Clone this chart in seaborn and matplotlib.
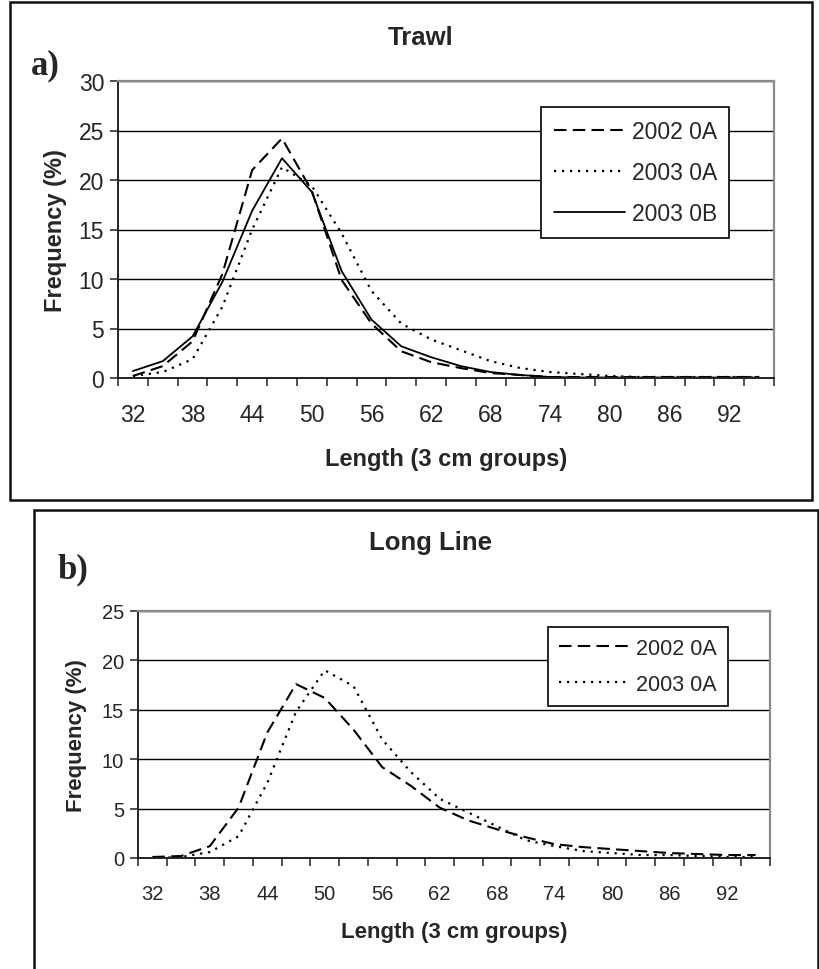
import numpy as np
import pandas as pd
import matplotlib
matplotlib.use("Agg")
import matplotlib.pyplot as plt
import seaborn as sns
from matplotlib.patches import Rectangle
from matplotlib.lines import Line2D

# ---------------- data ----------------
length_groups = [32, 35, 38, 41, 44, 47, 50, 53, 56, 59, 62, 65, 68, 71, 74, 77, 80, 83, 86, 89, 92, 95]
x_tick_labels = ["32", "38", "44", "50", "56", "62", "68", "74", "80", "86", "92"]

trawl_2002_0A = [0.2, 1.2, 3.7, 10.5, 21.0, 24.2, 18.9, 9.9, 5.5, 2.7, 1.6, 1.0, 0.5, 0.3, 0.1, 0.1, 0.1, 0.1, 0.1, 0.1, 0.1, 0.1]
trawl_2003_0A = [0.2, 0.6, 1.9, 7.2, 15.0, 21.3, 19.4, 14.6, 8.8, 5.5, 3.9, 2.8, 1.7, 1.0, 0.6, 0.4, 0.2, 0.1, 0.1, 0.1, 0.1, 0.1]
trawl_2003_0B = [0.7, 1.7, 4.2, 9.7, 16.9, 22.2, 18.8, 10.8, 5.9, 3.2, 2.1, 1.2, 0.6, 0.3, 0.1, 0.05, 0.05, 0.05, 0.05, 0.05, 0.05, 0.05]

longline_2002_0A = [0.1, 0.2, 1.2, 5.1, 12.7, 17.6, 16.2, 13.0, 9.2, 7.3, 5.1, 3.8, 2.9, 2.1, 1.4, 1.1, 0.9, 0.7, 0.5, 0.4, 0.3, 0.3]
longline_2003_0A = [0.0, 0.1, 0.6, 2.2, 7.6, 14.8, 19.0, 17.4, 12.0, 8.7, 6.0, 4.6, 3.2, 1.8, 1.2, 0.7, 0.5, 0.3, 0.3, 0.2, 0.1, 0.1]

series_labels_a = ["2002 0A", "2003 0A", "2003 0B"]
series_labels_b = ["2002 0A", "2003 0A"]

# ---------------- style ----------------
sns.set_theme(style="white")
plt.rcParams["font.family"] = ["Liberation Sans", "DejaVu Sans"]

DASH = (6, 3)
DOT = (1, 2.6)
styles = {
    "2002 0A": dict(dashes=DASH, lw=1.5),
    "2003 0A": dict(dashes=DOT, lw=1.6),
    "2003 0B": dict(dashes=None, lw=1.3),
}

W, H = 820, 970
fig = plt.figure(figsize=(W / 100, H / 100), dpi=100)
fig.patch.set_facecolor("white")


def px_axes(left, top, right, bottom):
    return fig.add_axes([left / W, 1 - bottom / H, (right - left) / W, (bottom - top) / H])


def draw_panel(ax, series, labels, ymax, fs_tick, fs_lab, fs_leg, xpad, legend_pos,
               handlelen, labspace, bpad, label_coords_y, label_coords_x):
    n = len(length_groups)
    pos = np.arange(n)
    for vals, lab in zip(series, labels):
        df = pd.DataFrame({"pos": pos, "val": vals})
        st = styles[lab]
        sns.lineplot(data=df, x="pos", y="val", ax=ax, legend=False, color="black", lw=st["lw"])
        ln = ax.get_lines()[-1]
        if st["dashes"] is not None:
            ln.set_dashes(st["dashes"])
    ax.set_xlim(-0.5, n - 0.5)
    ax.set_ylim(0, ymax)
    ax.set_yticks(np.arange(0, ymax + 1, 5))
    ax.set_yticklabels([str(v) for v in range(0, ymax + 1, 5)], fontsize=fs_tick)
    # major ticks at category boundaries, labels at every other category center
    ax.set_xticks(np.arange(-0.5, n, 1.0))
    ax.set_xticklabels([])
    ax.set_xticks(pos[::2], minor=True)
    ax.set_xticklabels(x_tick_labels, minor=True, fontsize=fs_tick)
    ax.tick_params(axis="x", which="major", direction="out", length=6, width=1.2, color="#333333", bottom=True)
    ax.tick_params(axis="x", which="minor", length=0, pad=xpad, bottom=True)
    ax.tick_params(axis="y", which="major", direction="out", length=6, width=1.2, color="#333333", left=True, pad=4)
    ax.grid(axis="y", color="black", lw=1.0)
    ax.grid(axis="x", visible=False)
    ax.set_axisbelow(True)
    for s in ["top", "right"]:
        ax.spines[s].set_color("#8a8a8a")
        ax.spines[s].set_linewidth(1.6)
    for s in ["left", "bottom"]:
        ax.spines[s].set_color("#222222")
        ax.spines[s].set_linewidth(1.4)
    ax.set_xlabel("Length (3 cm groups)", fontsize=fs_lab, fontweight="bold")
    ax.set_ylabel("Frequency (%)", fontsize=fs_lab, fontweight="bold")
    ax.xaxis.set_label_coords(0.5, label_coords_y)
    ax.yaxis.set_label_coords(label_coords_x, 0.5)

    handles = []
    for lab in labels:
        st = styles[lab]
        h = Line2D([], [], color="black", lw=st["lw"])
        if st["dashes"] is not None:
            h.set_dashes(st["dashes"])
        handles.append(h)
    leg = ax.legend(handles, labels, loc="upper left", bbox_to_anchor=legend_pos,
                    frameon=True, fancybox=False, fontsize=fs_leg,
                    handlelength=handlelen, handletextpad=0.3, labelspacing=labspace,
                    borderpad=bpad, borderaxespad=0.0, edgecolor="black")
    leg.get_frame().set_linewidth(1.2)
    leg.get_frame().set_facecolor("white")
    leg.get_frame().set_alpha(1.0)


# ---------------- panel a ----------------
ax_a = px_axes(118, 82, 774, 379)
draw_panel(ax_a, [trawl_2002_0A, trawl_2003_0A, trawl_2003_0B], series_labels_a, 30,
           fs_tick=16.5, fs_lab=17, fs_leg=16.5, xpad=18, legend_pos=(0.645, 0.912),
           handlelen=3.1, labspace=0.8, bpad=0.55, label_coords_y=-0.232, label_coords_x=-0.078)

# ---------------- panel b ----------------
ax_b = px_axes(138, 612, 770, 859)
draw_panel(ax_b, [longline_2002_0A, longline_2003_0A], series_labels_b, 25,
           fs_tick=14.5, fs_lab=16, fs_leg=15.5, xpad=19, legend_pos=(0.649, 0.935),
           handlelen=3.3, labspace=0.7, bpad=0.5, label_coords_y=-0.255, label_coords_x=-0.080)

# titles and panel letters
fig.text(421 / W, 1 - 38 / H, "Trawl", ha="center", va="center", fontsize=18.5, fontweight="bold")
fig.text(431 / W, 1 - 543 / H, "Long Line", ha="center", va="center", fontsize=18.5, fontweight="bold")
fig.text(31 / W, 1 - 66 / H, "a)", ha="left", va="center", fontsize=25, fontweight="bold",
         family=["Liberation Serif", "DejaVu Serif"])
fig.text(57 / W, 1 - 570 / H, "b)", ha="left", va="center", fontsize=25, fontweight="bold",
         family=["Liberation Serif", "DejaVu Serif"])

# outer frames
fig.patches.append(Rectangle((10 / W, 1 - 501 / H), (812 - 10) / W, (501 - 3) / H,
                             transform=fig.transFigure, fill=False, edgecolor="#111111", lw=1.8))
fig.patches.append(Rectangle((34 / W, -0.02), (818 - 34) / W, 1 - 511 / H + 0.02,
                             transform=fig.transFigure, fill=False, edgecolor="#111111", lw=1.8))

fig.savefig("out.png", dpi=100, facecolor="white")
